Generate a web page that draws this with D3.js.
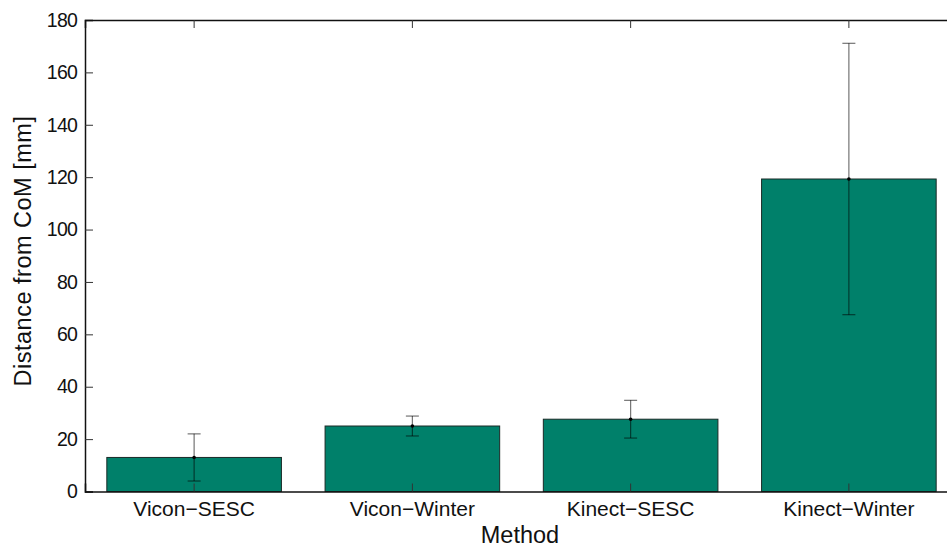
<!DOCTYPE html>
<html>
<head>
<meta charset="utf-8">
<script src="https://cdn.jsdelivr.net/npm/d3@7"></script>
<style>
  body { margin: 0; background: #fff; }
  svg { display: block; font-family: "Liberation Sans", Arial, sans-serif; }
</style>
</head>
<body>
<div id="mount"></div>
<script>
// chart data
var methods = ['Vicon\u2212SESC', 'Vicon\u2212Winter', 'Kinect\u2212SESC', 'Kinect\u2212Winter'];
var means = [13.0, 25.0, 27.6, 119.3];
var errors = [9.0, 3.8, 7.2, 51.8];
var yTicks = [0, 20, 40, 60, 80, 100, 120, 140, 160, 180];

var margin = { top: 20, left: 85 };
var width = 873, height = 471.5;

var svg = d3.select('#mount').append('svg')
    .attr('width', 947)
    .attr('height', 547);

var graph = svg.append('g')
    .attr('transform', `translate(${margin.left},${margin.top})`);

// bar slots like matlab: categories at 1..4, axis from 0.5 to 4.5
var x = d3.scaleBand()
    .domain(methods)
    .range([0, width])
    .paddingInner(0.2)
    .paddingOuter(0.1);

var y = d3.scaleLinear()
    .domain([0, 180])
    .range([height, 0]);

// bars
graph.selectAll('.bar')
    .data(methods)
  .enter().append('rect')
    .attr('class', 'bar')
    .attr('x', d => x(d))
    .attr('y', (d, i) => y(means[i]))
    .attr('width', x.bandwidth())
    .attr('height', (d, i) => y(0) - y(means[i]))
    .style('fill', '#00806a')
    .style('stroke', '#1a2a26')
    .style('stroke-width', 1);

// error bars
var err = graph.selectAll('.err')
    .data(methods)
  .enter().append('g')
    .attr('class', 'err')
    .attr('transform', d => `translate(${x(d) + x.bandwidth() / 2},0)`)
    .style('stroke', '#000')
    .style('stroke-opacity', 0.55)
    .style('stroke-width', 1.2);

err.append('line')
    .attr('y1', (d, i) => y(means[i] - errors[i]))
    .attr('y2', (d, i) => y(means[i] + errors[i]));
err.append('line')
    .attr('x1', -6.5).attr('x2', 6.5)
    .attr('y1', (d, i) => y(means[i] + errors[i]))
    .attr('y2', (d, i) => y(means[i] + errors[i]));
err.append('line')
    .attr('x1', -6.5).attr('x2', 6.5)
    .attr('y1', (d, i) => y(means[i] - errors[i]))
    .attr('y2', (d, i) => y(means[i] - errors[i]));
graph.selectAll('.dot')
    .data(methods)
  .enter().append('circle')
    .attr('class', 'dot')
    .attr('cx', d => x(d) + x.bandwidth() / 2)
    .attr('cy', (d, i) => y(means[i]))
    .attr('r', 1.8)
    .style('fill', '#000');

// axes, matlab style with inward ticks
var yAxis = d3.axisLeft(y).tickValues(yTicks).tickSize(-8).tickPadding(8);
var yAxisR = d3.axisRight(y).tickValues(yTicks).tickSize(-8).tickFormat('');
var xAxis = d3.axisBottom(x).tickSize(-8).tickPadding(9.5);
var xAxisTop = d3.axisTop(x).tickSize(-8).tickFormat('');

var gy = graph.append('g').attr('class', 'axis').call(yAxis);
graph.append('g').attr('class', 'axis').attr('transform', `translate(${width},0)`).call(yAxisR);
var gx = graph.append('g').attr('class', 'axis').attr('transform', `translate(0,${height})`).call(xAxis);
graph.append('g').attr('class', 'axis').call(xAxisTop);

graph.selectAll('.axis path').style('stroke', '#111').style('stroke-width', 1.5);
graph.selectAll('.axis line').style('stroke', '#333').style('stroke-width', 1);
graph.selectAll('.axis text').style('fill', '#111')
    .style('font-family', '"Liberation Sans", Arial, sans-serif');
gy.selectAll('text').style('font-size', '19.5px').style('letter-spacing', '-0.8px');
gx.selectAll('text').style('font-size', '21px');

// axis titles
svg.append('text')
    .attr('x', 520)
    .attr('y', 542.5)
    .attr('text-anchor', 'middle')
    .style('font-size', '23.5px')
    .style('fill', '#111')
    .text('Method');

svg.append('text')
    .attr('transform', 'translate(31,251) rotate(-90)')
    .attr('text-anchor', 'middle')
    .style('font-size', '23.5px')
    .style('letter-spacing', '0.5px')
    .style('fill', '#111')
    .text('Distance from CoM [mm]');
</script>
</body>
</html>
